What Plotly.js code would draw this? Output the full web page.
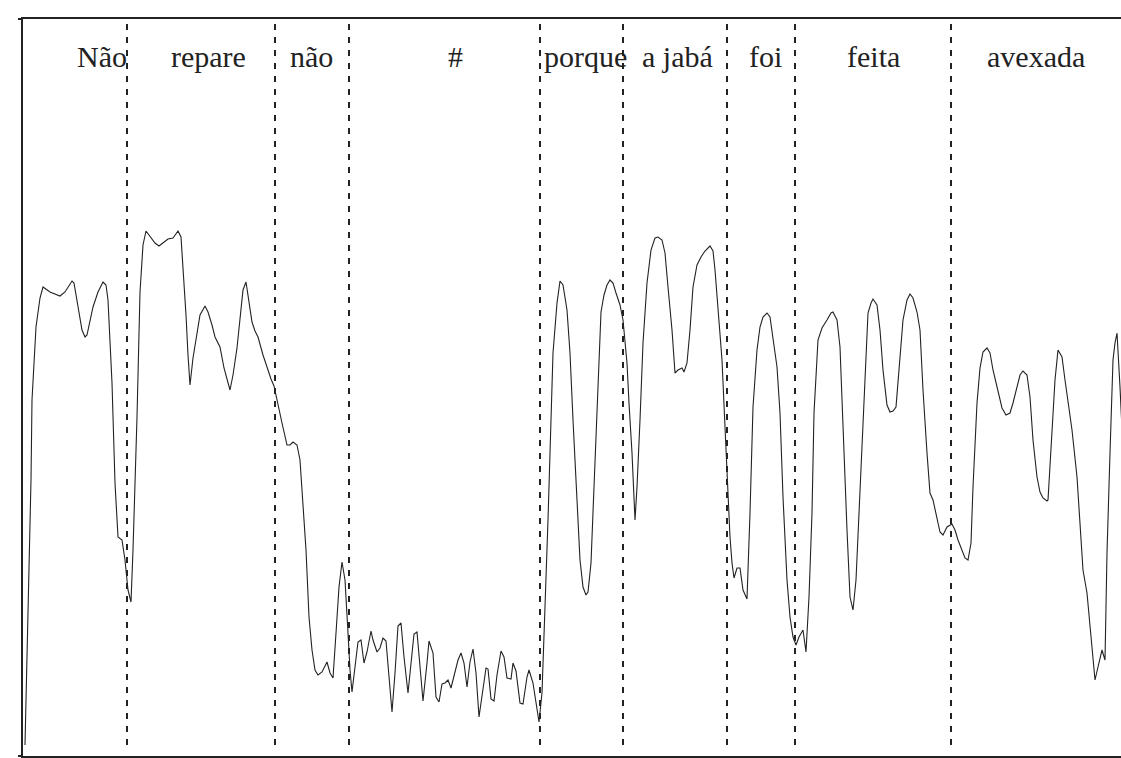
<!DOCTYPE html>
<html>
<head>
<meta charset="utf-8">
<script src="https://cdn.plot.ly/plotly-3.0.1.min.js"></script>
<style>html,body{margin:0;padding:0;background:#fff;}#chart{width:1121px;height:758px;}</style>
</head>
<body>
<div id="chart"></div>
<script>
// time axis (frames) and contour values
const time = [2,8,9,13,17,20,27,37,42,49,51,54,59,62,64,70,75,80,83,85,89,92,95,99,102,105,108,110,114,117,120,123,127,132,136,140,145,150,155,158,160,163,165,167,170,174,177,182,185,189,192,197,201,207,210,214,217,220,223,225,229,232,235,240,244,248,251,255,259,264,267,270,274,277,280,283,286,289,292,295,299,304,307,310,313,316,319,322,325,327,329,332,335,338,341,344,348,350,354,357,360,363,365,369,372,375,378,381,385,388,391,394,397,400,404,406,410,413,416,419,422,425,428,432,435,438,441,444,447,450,453,456,460,463,465,468,471,474,478,481,484,488,490,493,497,500,504,506,510,513,516,519,521,523,525,530,534,537,540,544,547,550,554,557,560,563,565,568,571,574,578,581,584,587,590,593,597,600,604,606,609,612,614,617,620,624,628,632,635,639,642,645,649,652,655,659,661,664,667,670,674,678,682,687,690,692,695,699,702,705,707,709,711,714,717,720,724,727,730,734,737,740,744,747,750,754,757,760,764,767,770,773,776,780,783,786,789,791,795,799,804,808,810,814,817,820,824,827,830,833,836,840,843,845,848,850,854,857,860,864,867,870,873,875,878,880,884,887,890,894,897,900,904,907,910,914,917,920,924,929,932,935,939,942,945,948,950,954,957,960,964,967,970,974,979,983,987,990,994,997,1000,1004,1007,1010,1014,1017,1020,1024,1025,1029,1032,1035,1039,1042,1045,1049,1054,1057,1060,1064,1067,1070,1072,1075,1079,1082,1084,1087,1090,1092,1094,1097,1100];
const level = [11,276,356,429,458,469,464,460,464,475,473,456,426,419,421,449,464,474,471,456,373,273,219,216,196,166,154,206,339,464,511,525,520,513,510,513,517,518,525,519,491,441,401,371,398,424,441,450,444,431,419,409,388,366,381,408,441,466,474,461,434,425,419,401,388,377,370,353,333,311,311,314,311,296,256,206,139,106,86,81,84,94,83,78,123,169,194,176,123,86,64,88,114,116,93,104,125,116,104,108,118,115,89,44,83,130,133,99,63,93,122,124,89,55,93,115,103,59,54,72,73,76,68,84,96,103,93,69,94,107,83,39,66,88,87,57,55,81,105,99,78,77,93,85,53,52,79,86,73,53,34,63,116,166,236,403,453,475,471,446,403,336,253,196,169,161,164,193,269,353,444,461,471,476,473,463,451,436,393,353,303,236,269,336,413,473,506,518,519,516,503,469,426,383,386,388,384,393,426,469,491,499,505,510,505,486,446,396,329,259,219,193,178,188,188,166,157,243,349,406,429,439,443,439,419,389,343,259,176,139,119,111,119,126,104,159,243,343,416,428,436,443,444,436,409,326,226,159,146,176,243,343,409,443,453,457,451,426,386,351,344,345,349,376,409,436,456,462,458,444,426,366,303,263,256,236,224,221,229,232,226,216,206,198,196,213,269,353,388,404,408,403,386,369,348,341,343,353,369,381,385,381,359,316,279,264,258,255,256,319,376,406,399,376,353,326,279,236,186,163,129,93,76,89,106,96,203,303,396,413,423,369,306];

// word segment boundaries and labels
const boundaries = [104,252,326,517,600,704,772,928];
const words = ['Não','repare','não','#','porque','a jabá','foi','feita','avexada'];
const wordCenters = [79,185,288,432,562,654,742,850,1013];

const ink = '#222222';
const shapes = boundaries.map(b => ({
  type:'line', xref:'x', yref:'y', x0:b, x1:b, y0:11, y1:733,
  line:{color:ink, width:2, dash:'6px,7px'}
}));
const annotations = words.map((w,i) => ({
  x: wordCenters[i], y: 700, xref:'x', yref:'y', text:w, showarrow:false,
  xanchor:'center', yanchor:'middle',
  font:{family:'Liberation Serif, Times New Roman, serif', size:30, color:ink}
}));

Plotly.newPlot('chart', [{
  x: time, y: level, type:'scatter', mode:'lines',
  line:{color:ink, width:1.1}, hoverinfo:'skip'
}], {
  width:1121, height:758,
  margin:{l:23, r:0, t:19, b:2, pad:0},
  paper_bgcolor:'#ffffff', plot_bgcolor:'#ffffff',
  showlegend:false,
  xaxis:{range:[0,1098], showline:true, mirror:true, linecolor:ink, linewidth:2,
         showgrid:false, zeroline:false, showticklabels:false, ticks:''},
  yaxis:{range:[0,737], showline:true, linecolor:ink, linewidth:2,
         showgrid:false, zeroline:false, showticklabels:false,
         ticks:'outside', ticklen:3, tickwidth:2, tickcolor:ink, tickvals:[0,737]},
  shapes: shapes,
  annotations: annotations
}, {staticPlot:true});
</script>
</body>
</html>
